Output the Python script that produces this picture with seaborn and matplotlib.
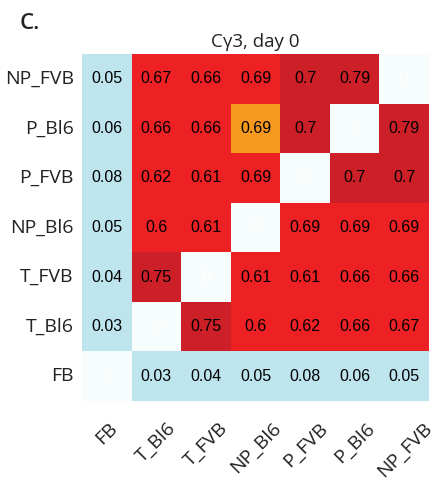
import numpy as np
import pandas as pd
import seaborn as sns
import matplotlib.pyplot as plt
from matplotlib.colors import ListedColormap, BoundaryNorm

rows = ["NP_FVB", "P_Bl6", "P_FVB", "NP_Bl6", "T_FVB", "T_Bl6", "FB"]
cols = ["FB", "T_Bl6", "T_FVB", "NP_Bl6", "P_FVB", "P_Bl6", "NP_FVB"]
r_np_fvb = [0.05, 0.67, 0.66, 0.69, 0.7, 0.79, 0]
r_p_bl6 = [0.06, 0.66, 0.66, 0.69, 0.7, 0, 0.79]
r_p_fvb = [0.08, 0.62, 0.61, 0.69, 0, 0.7, 0.7]
r_np_bl6 = [0.05, 0.6, 0.61, 0, 0.69, 0.69, 0.69]
r_t_fvb = [0.04, 0.75, 0, 0.61, 0.61, 0.66, 0.66]
r_t_bl6 = [0.03, 0, 0.75, 0.6, 0.62, 0.66, 0.67]
r_fb = [0, 0.03, 0.04, 0.05, 0.08, 0.06, 0.05]
highlight = [("P_Bl6", "NP_Bl6")]

df = pd.DataFrame([r_np_fvb, r_p_bl6, r_p_fvb, r_np_bl6, r_t_fvb, r_t_bl6, r_fb],
                  index=rows, columns=cols)

sns.set_theme(style="white")
plt.rcParams['font.family'] = ['Open Sans', 'DejaVu Sans']

fig = plt.figure(figsize=(4.45, 4.8), dpi=100)
ax = fig.add_axes([82/445, 1-401/480, 347/445, 347/480])

cmap = ListedColormap(["#f7fcfd", "#bee4ee", "#ed2024", "#cc1f27"])
norm = BoundaryNorm([-0.5, 0.01, 0.3, 0.695, 1.0], cmap.N)
sns.heatmap(df, ax=ax, cmap=cmap, norm=norm, cbar=False, annot=True, fmt="g",
            annot_kws={"fontsize": 11.5, "family": "Liberation Sans", "color": "black"})

# highlighted cell
hmask = np.ones(df.shape, dtype=bool)
for r, c in highlight:
    hmask[rows.index(r), cols.index(c)] = False
sns.heatmap(df, ax=ax, mask=hmask, cmap=ListedColormap(["#f6991f"]), cbar=False,
            annot=False)

for t in ax.texts:
    if t.get_text() == "0":
        t.set_color("white")
    else:
        t.set_color("black")

ax.set_xlabel("")
ax.set_ylabel("")
ax.tick_params(axis="both", length=0)
ax.tick_params(axis="x", pad=13)
ax.tick_params(axis="y", pad=6)
ax.set_xticklabels(cols, rotation=45, ha="center", va="top", fontsize=14, color="#222222")
ax.set_yticklabels(rows, rotation=0, fontsize=14, color="#222222")
ax.set_title("Cγ3, day 0", fontsize=13.5, pad=5, color="#222222")
fig.text(20/445, 1-29/480, "C.", fontsize=16, fontweight="semibold", color="#222222")

fig.savefig("out.png", dpi=100)
